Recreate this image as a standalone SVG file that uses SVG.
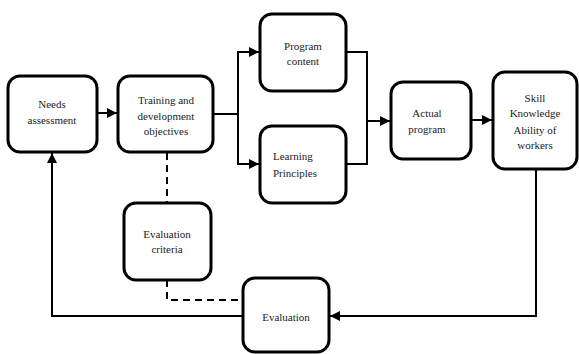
<svg xmlns="http://www.w3.org/2000/svg" width="579" height="354" viewBox="0 0 579 354">
<defs>
<style>
.box{fill:#fff;stroke:#000;stroke-width:3}
text{font-family:'Liberation Serif',serif;font-size:11px;fill:#222;text-anchor:middle}
.c{fill:none;stroke:#000;stroke-width:2}
.d{fill:none;stroke:#000;stroke-width:2;stroke-dasharray:7,5}
</style>
<marker id="ah" viewBox="0 0 10 10" refX="10" refY="5" markerWidth="5" markerHeight="5" orient="auto" markerUnits="strokeWidth">
<path d="M0,0 L10,5 L0,10 z" fill="#000"/>
</marker>
</defs>
<rect width="579" height="354" fill="#fff"/>
<g id="connectors">
<line class="c" x1="97" y1="113" x2="117" y2="113" marker-end="url(#ah)"/>
<line class="c" x1="213" y1="114" x2="238" y2="114"/>
<polyline class="c" points="238,52 238,164"/>
<line class="c" x1="237" y1="52" x2="259" y2="52" marker-end="url(#ah)"/>
<line class="c" x1="237" y1="164" x2="259" y2="164" marker-end="url(#ah)"/>
<polyline class="c" points="346,52 367,52 367,164 346,164"/>
<line class="c" x1="367" y1="121" x2="390" y2="121" marker-end="url(#ah)"/>
<line class="c" x1="471" y1="120" x2="492" y2="120" marker-end="url(#ah)"/>
<polyline class="c" points="536,169 536,316 330,316" marker-end="url(#ah)"/>
<polyline class="c" points="243,316 52,316 52,153" marker-end="url(#ah)"/>
<line class="d" x1="167" y1="153" x2="167" y2="203"/>
<polyline class="d" points="167,280 167,300 243,300"/>
</g>
<g id="needs">
<rect class="box" x="8" y="76" width="89" height="76" rx="12"/>
<text x="52" y="108">Needs</text>
<text x="52" y="124">assessment</text>
</g>
<g id="training">
<rect class="box" x="118" y="76" width="95" height="76" rx="12"/>
<text x="166" y="104">Training and</text>
<text x="166" y="120">development</text>
<text x="166" y="135">objectives</text>
</g>
<g id="program">
<rect class="box" x="260" y="14" width="86" height="77" rx="12"/>
<text x="303" y="50">Program</text>
<text x="303" y="65">content</text>
</g>
<g id="learning">
<rect class="box" x="260" y="126" width="86" height="77" rx="12"/>
<text x="273" y="160" style="text-anchor:start">Learning</text>
<text x="273" y="177" style="text-anchor:start">Principles</text>
</g>
<g id="actual">
<rect class="box" x="391" y="82" width="80" height="77" rx="12"/>
<text x="427" y="117">Actual</text>
<text x="427" y="133">program</text>
</g>
<g id="skill">
<rect class="box" x="493" y="72" width="84" height="97" rx="12"/>
<text x="535" y="102">Skill</text>
<text x="535" y="117">Knowledge</text>
<text x="535" y="134">Ability of</text>
<text x="535" y="149">workers</text>
</g>
<g id="criteria">
<rect class="box" x="124" y="203" width="87" height="77" rx="12"/>
<text x="167" y="238">Evaluation</text>
<text x="167" y="253">criteria</text>
</g>
<g id="evaluation">
<rect class="box" x="243" y="278" width="86" height="74" rx="12"/>
<text x="286" y="321">Evaluation</text>
</g>
</svg>
